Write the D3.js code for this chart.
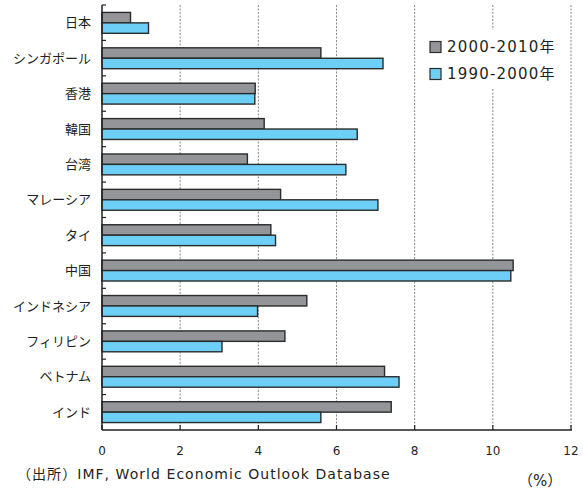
<!DOCTYPE html>
<html><head><meta charset="utf-8">
<script src="https://cdn.jsdelivr.net/npm/d3@7"></script>
<style>body{margin:0;background:#fff;} text{font-family:"Noto Sans CJK JP","Noto Sans",sans-serif;fill:#231f20;} .lat{font-family:"DejaVu Sans","Noto Sans CJK JP",sans-serif;}</style>
</head><body>
<svg id="c" width="583" height="495"></svg>
<script>
const categories = ["日本","シンガポール","香港","韓国","台湾","マレーシア","タイ","中国","インドネシア","フィリピン","ベトナム","インド"];
const series2000_2010 = [0.73,5.60,3.92,4.15,3.72,4.57,4.32,10.52,5.24,4.68,7.23,7.40];
const series1990_2000 = [1.19,7.19,3.91,6.53,6.24,7.06,4.44,10.46,3.98,3.07,7.60,5.60];
const seriesNames = ["2000-2010年","1990-2000年"];
const colors = ["#939598","#6dcff6"];
const xTicks = [0,2,4,6,8,10,12];

const svg = d3.select("#c");
const L = 102, R = 571, T = 5, B = 430;
const x = d3.scaleLinear().domain([0,12]).range([L,R]);
const y = d3.scaleBand().domain(categories).range([T,B]).paddingInner(0.41).paddingOuter(0.21);

// grid lines
svg.append("g").selectAll("line").data(xTicks.filter(d=>d>0)).join("line")
  .attr("x1",d=>x(d)).attr("x2",d=>x(d)).attr("y1",T).attr("y2",B)
  .attr("stroke","#888").attr("stroke-width",1).attr("stroke-dasharray","2,1.5");

// legend background
svg.append("rect").attr("x",420).attr("y",30).attr("width",145).attr("height",58).attr("fill","#fff");

// bars
const data = categories.map((c,i)=>({c, vals:[series2000_2010[i], series1990_2000[i]]}));
const bh = y.bandwidth()/2;
const g = svg.append("g");
data.forEach(d=>{
  d.vals.forEach((v,k)=>{
    g.append("rect").attr("x",x(0)).attr("y",y(d.c)+k*bh).attr("width",x(v)-x(0)).attr("height",bh)
      .attr("fill",colors[k]).attr("stroke","#2b2b2b").attr("stroke-width",1.4);
  });
});

// left axis
svg.append("line").attr("x1",L).attr("x2",L).attr("y1",T).attr("y2",B).attr("stroke","#222").attr("stroke-width",1.5);
const step = (B-T)/categories.length;
svg.append("g").selectAll("line").data(d3.range(categories.length)).join("line")
  .attr("x1",L).attr("x2",L+4).attr("y1",i=>T+i*step).attr("y2",i=>T+i*step)
  .attr("stroke","#222").attr("stroke-width",1.2);
svg.append("g").selectAll("text").data(categories).join("text")
  .attr("x",91).attr("y",d=>y(d)+y.bandwidth()/2).attr("dy","0.35em").attr("text-anchor","end")
  .attr("font-size",13).text(d=>d);

// bottom axis
svg.append("line").attr("x1",L).attr("x2",R+1).attr("y1",B).attr("y2",B).attr("stroke","#222").attr("stroke-width",1.5);
svg.append("g").selectAll("line").data(xTicks).join("line")
  .attr("x1",d=>x(d)).attr("x2",d=>x(d)).attr("y1",B).attr("y2",B-5).attr("stroke","#222").attr("stroke-width",1.2);
svg.append("g").selectAll("text").data(xTicks).join("text").attr("class","lat")
  .attr("x",d=>x(d)).attr("y",451).attr("dy","0.35em").attr("text-anchor","middle")
  .attr("font-size",12).text(d=>d);

// legend
seriesNames.forEach((n,k)=>{
  const ly = 47 + k*27;
  svg.append("rect").attr("x",430).attr("y",ly-5.5).attr("width",11).attr("height",11)
    .attr("fill",colors[k]).attr("stroke","#2b2b2b").attr("stroke-width",1.2);
  svg.append("text").attr("class","lat").attr("x",447).attr("y",ly).attr("dy","0.36em").attr("font-size",15)
    .attr("letter-spacing",1.2).text(n);
});

// footer
svg.append("text").attr("class","lat").attr("x",17).attr("y",479).attr("font-size",14)
  .attr("letter-spacing",1.05).text("（出所）IMF, World Economic Outlook Database");
svg.append("text").attr("class","lat").attr("x",518).attr("y",486).attr("font-size",15).text("（%）");
</script>
</body></html>
